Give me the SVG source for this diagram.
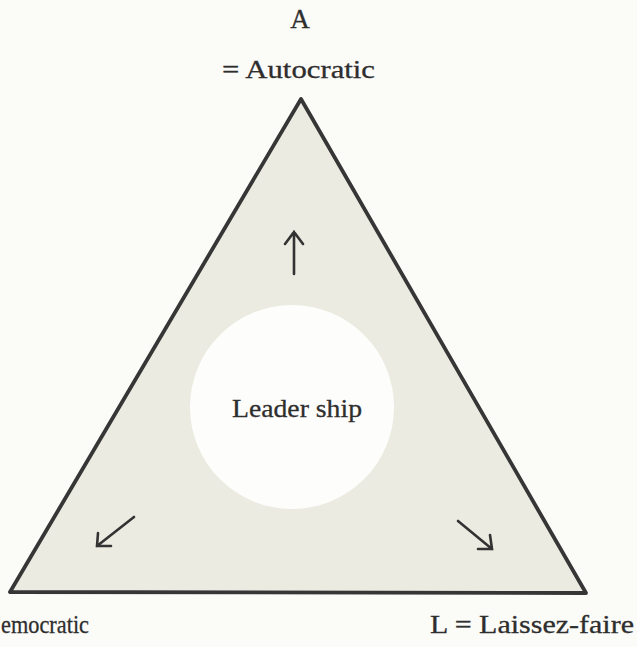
<svg xmlns="http://www.w3.org/2000/svg" width="637" height="647" viewBox="0 0 637 647">
<style>
.t{font-family:"Liberation Serif","Times New Roman",serif;fill:#2e2e2e;stroke:#2e2e2e;stroke-width:0.3}
.ar{stroke:#333333;stroke-width:2.6;fill:none;stroke-linecap:round;stroke-linejoin:miter}
</style>
<rect width="637" height="647" fill="#fbfbf8"/>
<g id="triangle">
<polygon points="301,99 10,592 586,593" fill="#ebebe1" stroke="#363636" stroke-width="3.8" stroke-linejoin="round"/>
</g>
<g id="leadership">
<circle cx="292" cy="407" r="102" fill="#fdfdfb"/>
<text class="t" x="232" y="417" font-size="26" textLength="130" lengthAdjust="spacingAndGlyphs">Leader ship</text>
</g>
<g id="autocratic">
<text class="t" x="300" y="28" font-size="27" text-anchor="middle">A</text>
<text class="t" x="222" y="78" font-size="26" textLength="153" lengthAdjust="spacingAndGlyphs">=  Autocratic</text>
</g>
<g id="democratic">
<text class="t" x="1" y="633" font-size="26" textLength="88" lengthAdjust="spacingAndGlyphs">emocratic</text>
</g>
<g id="laissezfaire">
<text class="t" x="430" y="633" font-size="26" textLength="204" lengthAdjust="spacingAndGlyphs">L =  Laissez-faire</text>
</g>
<g id="connectors">
<path class="ar" d="M294,274 V232 M285,244 L294,232 L303,244"/>
<path class="ar" d="M134,517 L97,546 M98,533 L97,546 L111,546"/>
<path class="ar" d="M458,521 L492,549 M490,535 L492,549 L478,549"/>
</g>
</svg>
